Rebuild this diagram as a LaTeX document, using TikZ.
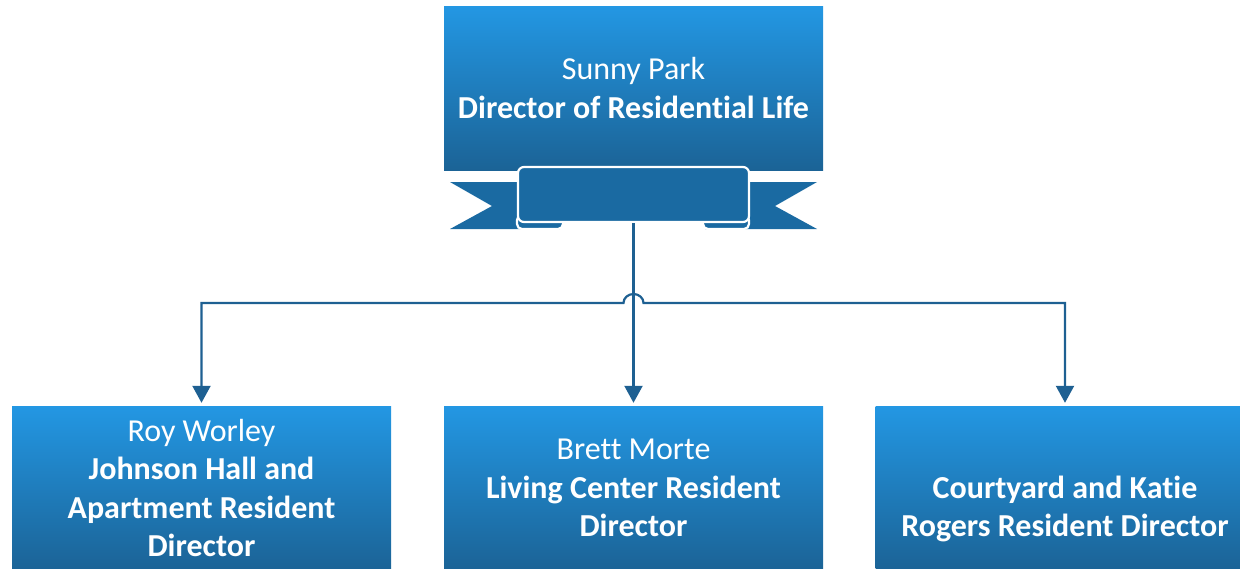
\documentclass[tikz,border=0pt]{standalone}
\usepackage{fontspec}
\setmainfont[Ligatures={NoCommon}]{Carlito}
\usetikzlibrary{arrows.meta}
\definecolor{btop}{RGB}{35,151,227}
\definecolor{bbot}{RGB}{27,99,150}
\definecolor{rib}{RGB}{26,106,162}
\definecolor{lnc}{RGB}{30,96,146}
\begin{document}
\begin{tikzpicture}[x=1pt,y=-1pt,
  box/.style={rectangle,minimum width=379pt,minimum height=164pt,top color=btop,bottom color=bbot,draw=none,inner sep=0pt},
  txt/.style={text=white,align=center,font=\fontsize{32}{38.5}\selectfont,inner sep=0pt},
  lc/.style={draw=lnc,line width=2.2pt,line join=miter},
  tip/.style={-{Triangle[width=18pt,length=17pt]}},
  ribpart/.style={fill=rib,draw=white,line width=2.2pt}]
\useasboundingbox (0,0) rectangle (1240,568);
% boxes
\node[box] (top) at (633.5,88) {};
\node[box] (left) at (201.5,488) {};
\node[box] (mid) at (633.5,488) {};
\node[box] (right) at (1065,488) {};
% ribbon tails
\fill[rib] (450,182) -- (560,182) -- (560,229) -- (450,229) -- (492,206) -- cycle;
\fill[rib] (817,182) -- (705,182) -- (705,229) -- (817,229) -- (775,206) -- cycle;
% curls
\draw[ribpart,rounded corners=5pt] (517,215) rectangle (563,229);
\draw[ribpart,rounded corners=5pt] (703,215) rectangle (749,229);
% banner
\node[ribpart,rounded corners=6pt,minimum width=231pt,minimum height=55pt,inner sep=0pt] (ribbon) at (633.5,194.5) {};
% texts
\node[txt] (ttop) at (633.5,88) {Sunny Park\\\textbf{Director of Residential Life}};
\node[txt] (tleft) at (201.5,488) {Roy Worley\\\textbf{Johnson Hall and}\\\textbf{Apartment Resident}\\\textbf{Director}};
\node[txt] (tmid) at (633.5,488) {Brett Morte\\\textbf{Living Center Resident}\\\textbf{Director}};
\node[txt] (tright) at (1065,509) {\textbf{Courtyard and Katie}\\\textbf{Rogers Resident Director}};
% connectors
\coordinate (hl) at (201.5,303);
\coordinate (hm) at (633.5,303);
\coordinate (hr) at (1065,303);
\draw[lc,tip,shorten >=3pt] (ribbon.south) -- (mid.north);
\draw[lc,{Triangle[width=18pt,length=17pt]}-{Triangle[width=18pt,length=17pt]},shorten <=3pt,shorten >=3pt]
  (left.north) -- (hl) -- ([xshift=-10pt]hm) arc[start angle=180,end angle=0,x radius=10pt,y radius=9pt] -- (hr) -- (right.north);
\end{tikzpicture}
\end{document}
